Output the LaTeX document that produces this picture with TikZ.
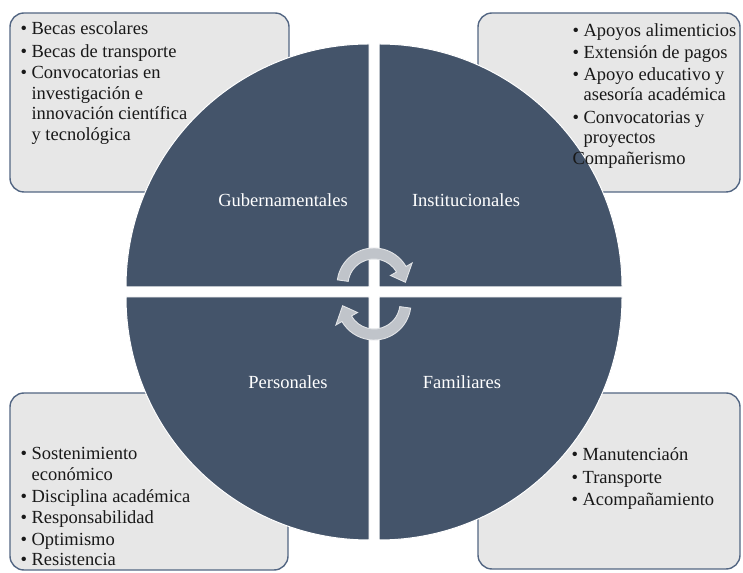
\documentclass[tikz,border=0pt]{standalone}
\usepackage{fontspec}
\setmainfont{Liberation Serif}
\usetikzlibrary{positioning}

\definecolor{slateBlue}{HTML}{44546A}
\definecolor{boxGray}{HTML}{E7E7E7}
\definecolor{boxEdge}{HTML}{536683}
\definecolor{arrowGray}{HTML}{C0C4CA}
\definecolor{arrowEdge}{HTML}{E2E4E7}

\newcommand{\bul}{\textbullet\ }
\newcommand{\ind}{\phantom{\textbullet\ }}

\begin{document}
\begin{tikzpicture}[x=1pt, y=1pt,
    % --- Styles ---
    infoBox/.style={
      draw=boxEdge,
      fill=boxGray,
      line width=1.4pt,
      rounded corners=14pt,
      rectangle,
      inner sep=0pt
    },
    listText/.style={
      anchor=north west,
      align=left,
      inner sep=0pt,
      font=\fontsize{18.5}{20.5}\selectfont,
      text=black!90
    },
    quadFill/.style={
      fill=slateBlue,
      draw=white,
      line width=1pt
    },
    quadLabel/.style={
      text=white,
      inner sep=0pt,
      font=\fontsize{18.5}{20.5}\selectfont
    },
    cycleArrow/.style={
      fill=arrowGray,
      draw=arrowEdge,
      line width=0.9pt
    }
]
\useasboundingbox (0,0) rectangle (743,572);

%=====================
% Boxes behind the circle
%=====================
\node[infoBox, minimum width=279pt, minimum height=179pt] (boxGob) at (149.5,469.5) {};
\node[infoBox, minimum width=262pt, minimum height=179pt] (boxInst) at (609,469.5) {};
\node[infoBox, minimum width=278pt, minimum height=177pt] (boxPers) at (149,90.5) {};
\node[infoBox, minimum width=262pt, minimum height=176pt] (boxFam) at (609,91) {};

%=====================
% Circle in four quadrants
%=====================
\filldraw[quadFill] (369,285) -- ++(180:243) arc (180:90:243) -- cycle;
\filldraw[quadFill] (379,285) -- ++(90:243) arc (90:0:243) -- cycle;
\filldraw[quadFill] (379,275) -- ++(0:243) arc (0:-90:243) -- cycle;
\filldraw[quadFill] (369,275) -- ++(-90:243) arc (-90:-180:243) -- cycle;

\node[quadLabel] (labGob) at (283,372) {Gubernamentales};
\node[quadLabel] (labInst) at (466,372) {Institucionales};
\node[quadLabel] (labPers) at (288,190) {Personales};
\node[quadLabel] (labFam) at (462,190) {Familiares};

%=====================
% Cycle arrows in the middle
%=====================
\begin{scope}[shift={(374,287)}]
\filldraw[cycleArrow] (172:37) arc (172:30:37) -- (30:44) -- (5:31.5) -- (30:19) -- (30:26) arc (30:172:26) -- cycle;
\end{scope}
\begin{scope}[shift={(374,269)}, rotate=180]
\filldraw[cycleArrow] (172:37) arc (172:30:37) -- (30:44) -- (5:31.5) -- (30:19) -- (30:26) arc (30:172:26) -- cycle;
\end{scope}

%=====================
% Lists
%=====================
\node[listText, below right=9.5pt and 11pt of boxGob.north west] (listGob) {%
  \bul Becas escolares\\[2pt]
  \bul Becas de transporte\\[1pt]
  \bul Convocatorias en\\
  \ind investigación e\\
  \ind innovación científica\\
  \ind y tecnológica};

\node[listText, below right=11.5pt and 95pt of boxInst.north west] (listInst) {%
  \bul Apoyos alimenticios\\[1.5pt]
  \bul Extensión de pagos\\[1pt]
  \bul Apoyo educativo y\\
  \ind asesoría académica\\[2pt]
  \bul Convocatorias y\\
  \ind proyectos\\
  Compañerismo};

\node[listText, below right=54.5pt and 11pt of boxPers.north west] (listPers) {%
  \bul Sostenimiento\\[1pt]
  \ind económico\\[1pt]
  \bul Disciplina académica\\[1pt]
  \bul Responsabilidad\\[1pt]
  \bul Optimismo\\
  \bul Resistencia};

\node[listText, below right=55.5pt and 94pt of boxFam.north west] (listFam) {%
  \bul Manutenciaón\\[2.5pt]
  \bul Transporte\\[1.5pt]
  \bul Acompañamiento};

\end{tikzpicture}
\end{document}
